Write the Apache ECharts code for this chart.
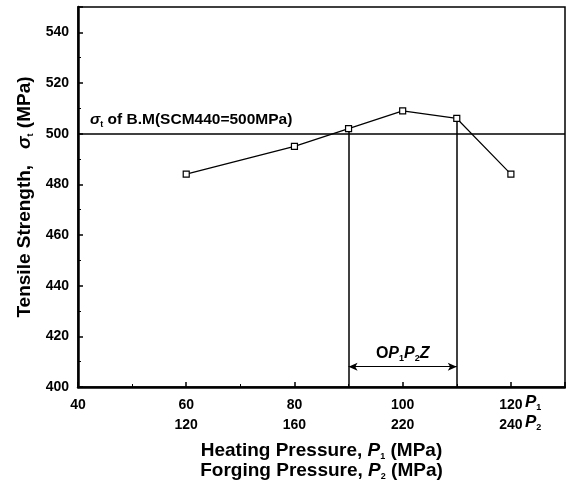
<!DOCTYPE html>
<html>
<head>
<meta charset="utf-8">
<script src="https://cdn.jsdelivr.net/npm/echarts@6/dist/echarts.min.js"></script>
<style>
  html, body { margin: 0; padding: 0; background: #fff; }
  #chart { width: 566px; height: 491px; }
</style>
</head>
<body>
<div id="chart"></div>
<script>
// heating pressure P1 (MPa) and tensile strength (MPa)
const heatingP = [60, 80, 90, 100, 110, 120]
const tensile = [484, 495, 502, 509, 506, 484]
// tick labels: heating pressure and matching forging pressure
const heatTicks = [40, 60, 80, 100, 120]
const forgeTicks = ['', 120, 160, 220, 240]
// base metal strength and the optimum window
const baseMetal = 500
const opRange = [90, 110]
const arrowLevel = 408

const font = 'Liberation Sans, Arial, sans-serif'
const chart = echarts.init(document.getElementById('chart'))

const sub = { fontSize: 9, lineHeight: 9, fontWeight: 'bold', fontFamily: font, color: '#000', verticalAlign: 'bottom' }

chart.setOption({
  backgroundColor: '#fff',
  animation: false,
  grid: {
    left: 78,
    right: 1,
    top: 7,
    bottom: 104,
    show: true,
    borderColor: '#000',
    borderWidth: 1.5
  },
  xAxis: {
    type: 'value',
    min: 40,
    max: 130,
    interval: 20,
    axisLine: { show: true, onZero: false, lineStyle: { color: '#000', width: 2.5 } },
    axisTick: { show: true, inside: true, length: 5, lineStyle: { color: '#000', width: 1.5 } },
    minorTick: { show: true, splitNumber: 2, length: 3, lineStyle: { color: '#000', width: 1 } },
    splitLine: { show: false },
    axisLabel: {
      showMaxLabel: false,
      margin: 8,
      formatter: function (v) {
        const i = heatTicks.indexOf(v)
        if (i < 0) return ''
        return forgeTicks[i] ? '{a|' + v + '}\n{a|' + forgeTicks[i] + '}' : '{a|' + v + '}'
      },
      rich: {
        a: { fontSize: 14, fontWeight: 'bold', fontFamily: font, color: '#000', lineHeight: 20 }
      }
    },
    name: '{n|Heating Pressure, }{i|P}{s|1}{n| (MPa)}\n{n|Forging Pressure, }{i|P}{s|2}{n| (MPa)}',
    nameLocation: 'middle',
    nameGap: 54,
    nameTextStyle: {
      rich: {
        n: { fontSize: 19, fontWeight: 'bold', fontFamily: font, color: '#000', lineHeight: 20 },
        i: { fontSize: 19, fontWeight: 'bold', fontFamily: font, fontStyle: 'italic', color: '#000', lineHeight: 20 },
        s: sub
      }
    }
  },
  yAxis: {
    type: 'value',
    min: 400,
    max: 550,
    interval: 20,
    axisLine: { show: true, lineStyle: { color: '#000', width: 2.5 } },
    axisTick: { show: true, inside: true, length: 5, lineStyle: { color: '#000', width: 1.5 } },
    minorTick: { show: true, splitNumber: 2, length: 3, lineStyle: { color: '#000', width: 1 } },
    splitLine: { show: false },
    axisLabel: {
      showMaxLabel: false,
      margin: 9,
      fontSize: 14,
      fontWeight: 'bold',
      fontFamily: font,
      color: '#000'
    },
    name: '{n|Tensile Strength,   }{g|σ}{s|t}{n| (MPa)}',
    nameLocation: 'middle',
    nameGap: 40,
    nameTextStyle: {
      rich: {
        n: { fontSize: 19, fontWeight: 'bold', fontFamily: font, color: '#000', lineHeight: 20 },
        g: { fontSize: 19, fontWeight: 'bold', fontFamily: font, fontStyle: 'italic', color: '#000', lineHeight: 20 },
        s: sub
      }
    }
  },
  graphic: [
    {
      type: 'text',
      left: 525,
      top: 394,
      style: {
        text: '{i|P}{s|1}\n{i|P}{s|2}',
        rich: {
          i: { fontSize: 17, fontFamily: font, fontStyle: 'italic', fontWeight: 'bold', color: '#000', lineHeight: 20 },
          s: sub
        }
      }
    }
  ],
  series: [
    {
      type: 'line',
      data: heatingP.map((p, i) => [p, tensile[i]]),
      symbol: 'rect',
      symbolSize: 6,
      lineStyle: { color: '#000', width: 1.2 },
      itemStyle: { color: '#fff', borderColor: '#000', borderWidth: 1.2 },
      z: 5,
      markLine: {
        silent: true,
        symbol: 'none',
        animation: false,
        data: [
          {
            yAxis: baseMetal,
            lineStyle: { color: '#000', width: 1.5, type: 'solid' },
            label: {
              show: true,
              position: 'insideStartTop',
              distance: [12, 5],
              formatter: '{g|σ}{s|t}{b| of B.M(SCM440=500MPa)}',
              rich: {
                g: { fontSize: 15.5, fontFamily: font, fontStyle: 'italic', fontWeight: 'bold', color: '#000', lineHeight: 18 },
                b: { fontSize: 15.5, fontFamily: font, fontWeight: 'bold', color: '#000', lineHeight: 18 },
                s: sub
              }
            }
          },
          [
            { coord: [opRange[0], tensile[heatingP.indexOf(opRange[0])]] },
            { coord: [opRange[0], 400] }
          ],
          [
            { coord: [opRange[1], tensile[heatingP.indexOf(opRange[1])]] },
            { coord: [opRange[1], 400] }
          ],
          [
            {
              coord: [opRange[0], arrowLevel],
              symbol: 'arrow',
              symbolSize: [6, 9],
              lineStyle: { width: 1.2 },
              label: {
                show: true,
                position: 'middle',
                distance: 4,
                formatter: '{n|O}{i|P}{s|1}{i|P}{s|2}{i|Z}',
                rich: {
                  n: { fontSize: 16, fontFamily: font, fontWeight: 'bold', color: '#000', lineHeight: 18 },
                  i: { fontSize: 16, fontFamily: font, fontStyle: 'italic', fontWeight: 'bold', color: '#000', lineHeight: 18 },
                  s: sub
                }
              }
            },
            { coord: [opRange[1], arrowLevel], symbol: 'arrow', symbolSize: [6, 9] }
          ]
        ],
        lineStyle: { color: '#000', width: 1.5, type: 'solid' },
        label: { show: false }
      }
    }
  ]
})
</script>
</body>
</html>
